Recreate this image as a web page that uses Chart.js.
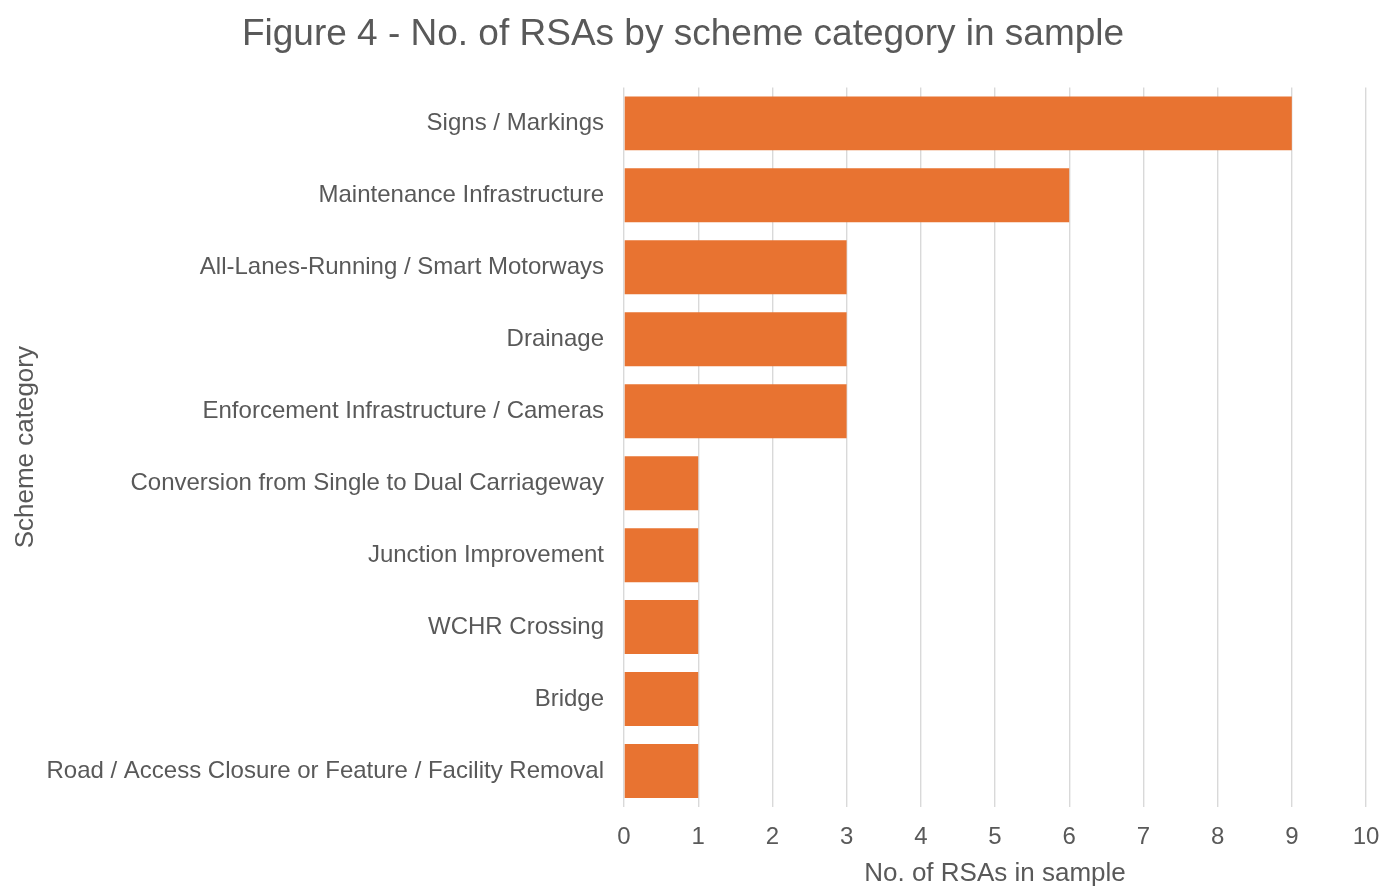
<!DOCTYPE html>
<html>
<head>
<meta charset="utf-8">
<title>RSAs by scheme category</title>
<script src="https://cdn.jsdelivr.net/npm/chart.js@4/dist/chart.umd.min.js"></script>
<style>
	html, body { margin: 0; padding: 0; background: #ffffff; }
	#wrap { width: 1393px; height: 887px; position: relative; }
</style>
</head>
<body>
<div id="wrap"><canvas id="rsaChart"></canvas></div>
<script>
	const categories = [
		'Signs / Markings',
		'Maintenance Infrastructure',
		'All-Lanes-Running / Smart Motorways',
		'Drainage',
		'Enforcement Infrastructure / Cameras',
		'Conversion from Single to Dual Carriageway',
		'Junction Improvement',
		'WCHR Crossing',
		'Bridge',
		'Road / Access Closure or Feature / Facility Removal'
	];
	const rsaCounts = [9, 6, 3, 3, 3, 1, 1, 1, 1, 1];
	const xTicks = [0, 1, 2, 3, 4, 5, 6, 7, 8, 9, 10];

	const textGrey = '#595959';
	Chart.defaults.font.family = '"Liberation Sans", Arial, sans-serif';
	Chart.defaults.color = textGrey;

	const ctx = document.getElementById('rsaChart').getContext('2d');
	new Chart(ctx, {
		type: 'bar',
		data: {
			labels: categories,
			datasets: [{
				label: 'No. of RSAs',
				data: rsaCounts,
				backgroundColor: '#E87331',
				borderWidth: 0,
				categoryPercentage: 0.75,
				barPercentage: 1
			}]
		},
		options: {
			indexAxis: 'y',
			responsive: true,
			maintainAspectRatio: false,
			animation: false,
			layout: {
				padding: { left: 0, right: 27, top: 0, bottom: 0 }
			},
			plugins: {
				legend: { display: false },
				tooltip: { enabled: false },
				title: {
					display: true,
					text: 'Figure 4 - No. of RSAs by scheme category in sample',
					color: textGrey,
					font: { size: 37, weight: 'normal', lineHeight: 1.2 },
					padding: { top: 13, bottom: 30 }
				}
			},
			scales: {
				x: {
					min: 0,
					max: 10,
					afterBuildTicks: function (scale) {
						scale.ticks = xTicks.map(v => ({ value: v }));
					},
					afterFit: function (scale) {
						scale.height = 80;
						// let the layout padding decide the right edge
						scale.paddingRight = 0;
					},
					grid: {
						color: '#d9d9d9',
						lineWidth: 1.4,
						drawTicks: false
					},
					border: { display: false },
					ticks: {
						color: textGrey,
						padding: 16,
						font: { size: 24 }
					},
					title: {
						display: true,
						text: 'No. of RSAs in sample',
						color: textGrey,
						font: { size: 26, lineHeight: 1.0 },
						padding: { top: 6, bottom: 0 }
					}
				},
				y: {
					afterFit: function (scale) {
						scale.width = 624;
					},
					grid: { display: false, drawTicks: false },
					border: { display: false },
					ticks: {
						color: textGrey,
						padding: 20,
						font: { size: 24 }
					},
					title: {
						display: true,
						text: 'Scheme category',
						color: textGrey,
						font: { size: 26 },
						padding: { top: 10, bottom: 0 }
					}
				}
			}
		}
	});
</script>
</body>
</html>
